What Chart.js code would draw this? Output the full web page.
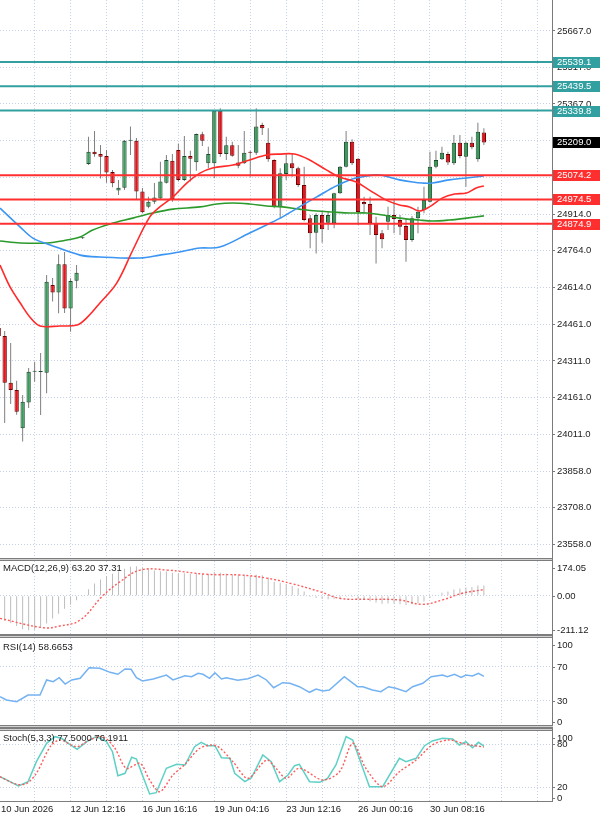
<!DOCTYPE html>
<html><head><meta charset="utf-8">
<script src="https://cdn.jsdelivr.net/npm/chart.js@4.4.1/dist/chart.umd.min.js"></script>
<style>
html,body{margin:0;padding:0;background:#fff;}
#wrap{position:relative;width:600px;height:816px;overflow:hidden;background:#fff;}
canvas{position:absolute;left:0;}
</style></head><body>
<div id="wrap">
<canvas id="cMain" style="top:0px" width="600" height="557"></canvas>
<canvas id="cMacd" style="top:557px" width="600" height="81"></canvas>
<canvas id="cRsi" style="top:634px" width="600" height="94"></canvas>
<canvas id="cStoch" style="top:728px" width="600" height="88"></canvas>
</div>
<script>
// ---------------- DATA ----------------
const FIRST_BAR = -1;
const opens  = [24447,24414,24222,24192,24035,24140,24267,24266,24263,24623,24592,24708,24527,24641,24815,25120,25171,25161,25153,25087,25011,25023,25216,25216,25007,24945,24965,24979,25043,25134,25178,25055,25153,25127,25242,25123,25123,25339,25161,25197,25126,25123,25170,25167,25281,25208,25137,24945,25079,25123,25103,25034,24897,24838,24911,24879,24877,25000,25109,25212,25142,24964,24956,24877,24836,24883,24911,24890,24866,24808,24897,24931,24965,25109,25140,25161,25123,25208,25150,25208,25140,25250];
const highs  = [24471,24434,24385,24230,24171,24282,24308,24344,24664,24652,24749,24759,24651,24705,24820,25232,25256,25198,25178,25096,25055,25219,25274,25227,25022,24986,25042,25130,25157,25161,25205,25235,25175,25246,25253,25191,25342,25349,25232,25212,25198,25256,25175,25349,25290,25267,25140,25103,25164,25161,25109,25109,24911,24918,24924,24924,25002,25112,25256,25222,25145,24986,24986,24904,24849,24945,24972,24911,24897,24907,24945,25027,25171,25175,25191,25171,25239,25239,25212,25232,25290,25267];
const lows   = [24397,24056,24134,24090,23980,24118,24226,24089,24178,24555,24507,24508,24431,24610,24812,25116,25150,25061,25043,25025,24993,25013,25157,24972,24919,24938,24956,24975,25040,24965,25048,25050,25048,25093,25194,25103,25062,25150,25137,25150,25103,25120,25068,25157,25239,25130,24938,24897,25055,25068,25026,24885,24774,24753,24797,24849,24856,24997,25106,25116,24870,24918,24829,24712,24774,24849,24836,24829,24719,24801,24836,24918,24962,25103,25137,25116,25116,25144,25027,25181,25130,25198];
const closes = [24414,24222,24192,24103,24144,24267,24270,24270,24637,24592,24708,24527,24640,24674,24816,25171,25160,25150,25085,25041,25023,25216,25219,25007,24922,24965,24983,25048,25137,24975,25055,25153,25142,25244,25216,25161,25339,25161,25197,25154,25113,25167,25167,25274,25267,25140,24945,25082,25123,25103,25034,24890,24836,24911,24852,24911,25000,25109,25212,25123,24923,24955,24877,24829,24811,24911,24894,24863,24808,24897,24924,24972,25109,25137,25167,25126,25208,25153,25208,25189,25253,25209];

const levelsTeal = [25539.1, 25439.5, 25339.8];
const levelsRed  = [25074.2, 24974.5, 24874.9];
const priceTicks = [23558,23708,23858,24011,24161,24311,24461,24614,24764,24914,25064,25217,25367,25517,25667];

const maRed = [[-0.78,24705],[0.9,24615],[2.6,24549],[4.2,24492],[5.9,24455],[9.2,24455],[12.1,24459],[13.7,24488],[15.9,24549],[18.7,24631],[21.4,24767],[24.2,24902],[25.9,24944],[28.1,24985],[30.4,25042],[32.6,25083],[34.7,25104],[38.1,25116],[40.9,25137],[43.7,25157],[45.9,25161],[48.4,25161],[50.9,25137],[53.7,25096],[55.9,25067],[58.7,25046],[60.9,25013],[63.7,24972],[65.9,24952],[67.6,24944],[69.2,24927],[70.9,24944],[73.1,24981],[75.1,24997],[77.1,25001],[78.7,25022],[80,25030]];
const maBlue = [[-0.78,24939],[2.6,24861],[4.7,24816],[7.6,24788],[12.6,24746],[15.9,24738],[22.6,24734],[25.9,24746],[29.2,24759],[32.6,24775],[35.9,24779],[40.9,24837],[43.7,24870],[46.4,24903],[49.2,24944],[52.1,24985],[54.7,25022],[57.6,25055],[60.4,25071],[62.6,25075],[65.9,25055],[68.1,25046],[69.7,25042],[71.4,25042],[74.2,25055],[77.1,25063],[80,25071]];
const maGreen = [[-0.78,24804],[2.6,24796],[7.1,24796],[10.4,24808],[12.6,24820],[14.7,24849],[17.6,24874],[21.4,24898],[24.7,24919],[28.1,24935],[32.6,24944],[35.4,24956],[38.1,24960],[40.9,24956],[43.7,24948],[46.4,24944],[49.2,24935],[52.1,24927],[54.7,24923],[57.6,24919],[60.4,24919],[63.1,24911],[65.9,24898],[69.2,24890],[71.4,24886],[74.2,24890],[77.1,24898],[80,24907]];

const MACD_FIRST = 0;
const macdHist = [-155,-167,-185,-205,-212,-208,-196,-170,-140,-110,-80,-55,-28,-5,40,75,100,120,135,148,165,178,180,172,162,155,150,148,140,135,138,133,138,136,132,145,140,136,132,128,126,120,128,125,110,85,80,72,60,45,25,-8,-14,-20,-22,-18,-12,-6,-8,-20,-26,-34,-42,-50,-48,-50,-52,-57,-52,-46,-36,-14,4,18,26,38,44,50,54,62,63.2];
const macdSignal = [[-0.78,-139],[6.4,-196],[9.2,-186],[12.6,-149],[16.4,0],[19.2,84],[22.6,157],[27.1,157],[33.7,131],[39.2,127],[43.7,108],[48.1,72],[52.6,25],[55.9,-16],[60.4,-22],[65.9,-26],[69.7,-53],[73.1,-26],[76.4,15],[80,37.31]];
const macdAxis = [174.05, 0, -211.12];

const rsi = [[-0.78,34.7],[0.3,30.8],[2,28.8],[3.9,36.7],[5.9,36.7],[7,54.4],[8.1,52.4],[9.1,57.1],[10.1,49.6],[11.2,54.4],[12.6,56.4],[14.1,68.8],[15.9,68.1],[17.6,63.4],[18.9,61.1],[20.1,67.3],[21.1,66.9],[22,57.1],[23,53.2],[24.8,55.5],[27,60.2],[28.1,54.4],[30.1,59.4],[31.2,58.2],[32.3,62.2],[33.1,61.1],[34.2,56.4],[35.1,62.9],[36.2,55.5],[37,57.1],[38.9,54],[40.6,55.9],[42.3,60.2],[43.7,54.4],[44.9,45.3],[46.4,51.2],[47.6,50.5],[49.2,46.5],[50.9,39.9],[52,43.8],[53.1,41.4],[54.2,42.6],[56.7,58.2],[58.9,46.5],[59.8,46.5],[61.4,42.6],[62.8,40.6],[64.1,46.5],[65.3,44.6],[67,40.6],[68.1,46.5],[69.8,50.5],[71.2,58.2],[73.1,60.2],[73.9,58.2],[75.1,61.1],[76.2,57.5],[77,60.2],[78.1,59.1],[79.1,62.2],[80,58.6653]];
const rsiAxis = [100, 70, 30, 0];

const stochMain = [[-0.78,34.7],[0.9,27.8],[2.3,21.8],[3.9,27.8],[5.3,55.7],[7,81.3],[8.4,90.6],[9.5,88.3],[10.6,81.3],[12.1,73],[13.7,83.6],[15.3,90.6],[17,83.6],[18,69.6],[18.9,36.1],[20.1,39.5],[21.2,61.8],[22,59.4],[23.1,34.7],[24.2,10.6],[25.3,12.4],[27,46.5],[28.7,52],[30.1,51.1],[31.7,76.6],[32.8,82.7],[33.9,78],[35.1,78],[36.2,61.3],[37.6,60.4],[38.4,39.5],[40.1,27.8],[41.2,33.3],[43.1,65],[44.5,55.7],[45.9,27.8],[47.3,37.1],[48.4,50.1],[49.2,52],[50.9,27.8],[52.6,26.9],[53.9,32.5],[55.3,51.1],[57,90.6],[58.1,86],[60.9,20.8],[63.1,20.8],[65.9,60.4],[67,55.7],[68.7,60.4],[70.1,78],[71.4,84.6],[73.1,88.3],[74.8,87.3],[75.9,79],[77,83.6],[78.1,75.2],[79.1,82.7],[80,77.5]];
const stochSignal = [[-0.78,34.7],[2,24.1],[3.7,25.5],[5.3,39.5],[7.6,76.6],[9.2,86],[12,76.6],[14.2,86],[16.4,90.6],[18.4,74.4],[20.3,46.5],[22.6,53.4],[24.2,30.1],[25.9,13.8],[28.1,37.1],[30.1,52],[32.6,74.4],[35.3,78],[38.1,55.7],[40.6,32.5],[43.7,58],[45.3,46.5],[47,32.5],[49.2,46.5],[53.1,30.1],[55.9,41.7],[58.1,81.3],[60.3,46.5],[63.1,20.8],[65.9,41.7],[68.7,58],[71.4,79],[74.2,86],[77,80],[80,76.1911]];
const stochAxis = [100, 80, 20, 0];

const timeLabels = ['10 Jun 2026','12 Jun 12:16','16 Jun 16:16','19 Jun 04:16','23 Jun 12:16','26 Jun 00:16','30 Jun 08:16'];
const timeLabelBars = [-0.6, 11, 23, 35, 47, 59, 71];
const gridBars = [5,11,17,23,29,35,41,47,53,59,65,71,77,83,89];

// ---------------- STYLE / LAYOUT ----------------
const GRID = '#c4d1e8', AXIS = '#7a7a7a', TEXT = '#222', DARK = '#7d7d7d', LIGHT = '#d2d2d2';
const TEAL = '#32a0a0', REDL = '#ff2f2f';
const UP_FILL = '#3a9a5c', UP_EDGE = '#1c4a2c', DN_FILL = '#e8121a', DN_EDGE = '#6a0000', WICK = '#7f7f7f';
const FONT = "9.5px 'Liberation Sans', Arial, sans-serif";
const X_MIN = -0.78, BAR_PX = 5.99, PLOT_W = 552, X_MAX = X_MIN + PLOT_W / BAR_PX;

Chart.defaults.font.family = "'Liberation Sans', Arial, sans-serif";
Chart.defaults.font.size = 9.5;
Chart.defaults.color = TEXT;

const last = a => a[a.length - 1];
const pts = arr => arr.map(p => ({x: p[0], y: p[1]}));

function xScale(showLabels) {
  const vals = showLabels ? [...new Set([...timeLabelBars, ...gridBars])].sort((a, b) => a - b) : gridBars.slice();
  return {
    type: 'linear', position: 'bottom', min: X_MIN, max: X_MAX, offset: false,
    afterBuildTicks: s => { s.ticks = vals.map(v => ({value: v})); },
    afterFit: s => { s.height = showLabels ? 15 : 0; s.paddingLeft = 0; s.paddingRight = 0; },
    grid: { offset: false, drawTicks: false, lineWidth: 1,
      color: c => (c.tick && gridBars.includes(c.tick.value)) ? GRID : 'rgba(0,0,0,0)' },
    border: { display: false, dash: [1, 2] },
    ticks: { display: showLabels, autoSkip: false, maxRotation: 0, minRotation: 0, align: 'start', padding: 3,
      color: TEXT, callback: v => { const i = timeLabelBars.indexOf(v); return i >= 0 ? timeLabels[i] : ''; } }
  };
}
function indicatorY(min, max, gridVals) {
  return { type: 'linear', position: 'right', min, max,
    afterBuildTicks: s => { s.ticks = gridVals.map(v => ({value: v})); },
    afterFit: s => { s.width = 48; s.paddingTop = 0; s.paddingBottom = 0; },
    grid: { color: GRID, drawTicks: false }, border: { display: false, dash: [1, 2] },
    ticks: { display: false } };
}

const panelDeco = {
  id: 'panelDeco',
  afterDraw(chart, args, o) {
    const ctx = chart.ctx, a = chart.chartArea, ys = chart.scales.y, R = Math.round(a.right);
    ctx.save();
    if (o.topBand) {
      const t = Math.round(a.top);
      ctx.fillStyle = DARK; ctx.fillRect(0, t - 3, R + 1, 1); ctx.fillRect(0, t - 1, R + 1, 1);
      ctx.fillStyle = LIGHT; ctx.fillRect(0, t - 2, R + 1, 1);
    }
    const b = Math.round(a.bottom);
    (o.bottomRows || []).forEach((c, i) => { ctx.fillStyle = c === 'd' ? DARK : LIGHT; ctx.fillRect(0, b + i, R + 1, 1); });
    ctx.fillStyle = AXIS; ctx.fillRect(R, 0, 1, b + 1);
    ctx.font = FONT; ctx.textBaseline = 'middle'; ctx.textAlign = 'left';
    (o.labels || []).forEach(([v, t]) => {
      let y = ys.getPixelForValue(v);
      y = Math.min(Math.max(y, a.top + 6.5), a.bottom - 3.5);
      ctx.fillStyle = AXIS; ctx.fillRect(R, Math.round(y), 3, 1);
      ctx.fillStyle = TEXT; ctx.fillText(t, R + 5, y + 0.5);
    });
    if (o.title) { ctx.fillStyle = TEXT; ctx.fillText(o.title, 3, a.top + o.titleDy); }
    if (o.tags) {
      o.tags.forEach(([v, bg]) => {
        const py = Math.round(ys.getPixelForValue(v));
        ctx.fillStyle = bg; ctx.fillRect(R + 1, py - 5, chart.width - R - 1, 11);
        ctx.fillStyle = '#fff'; ctx.fillText(v.toFixed(1), R + 5, py + 0.5);
      });
    }
    ctx.restore();
  }
};

function baseOpts(y, padTop, padBottom, showX, deco) {
  return { responsive: false, animation: false, devicePixelRatio: 1,
    layout: { padding: { top: padTop, bottom: padBottom, left: 0, right: 0 } },
    plugins: { legend: { display: false }, tooltip: { enabled: false }, panelDeco: deco },
    scales: { x: xScale(showX), y } };
}

// ---------------- MAIN PRICE CHART ----------------
const barIdx = opens.map((_, i) => FIRST_BAR + i);
const isUp = i => closes[i] >= opens[i];
const levelSet = (lv, col) => ({ type: 'line', data: [{x: X_MIN, y: lv}, {x: X_MAX, y: lv}], borderColor: col, borderWidth: 2, pointRadius: 0, order: 0 });
const maSet = (arr, col) => ({ type: 'line', data: pts(arr), borderColor: col, borderWidth: 1.6, pointRadius: 0, tension: 0.35, order: 1 });

new Chart(document.getElementById('cMain'), {
  type: 'bar',
  data: { datasets: [
    ...levelsTeal.map(v => levelSet(v, TEAL)),
    ...levelsRed.map(v => levelSet(v, REDL)),
    maSet(maRed, '#ff2a2a'), maSet(maBlue, '#3b95f2'), maSet(maGreen, '#2b9a2b'),
    { type: 'bar', data: barIdx.map((k, i) => ({x: k, y: [opens[i], closes[i]]})),
      backgroundColor: barIdx.map((_, i) => isUp(i) ? UP_FILL : DN_FILL),
      borderColor: barIdx.map((_, i) => isUp(i) ? UP_EDGE : DN_EDGE),
      borderWidth: 1, borderSkipped: false, grouped: false, maxBarThickness: 4.5, minBarLength: 1, order: 2 },
    { type: 'bar', data: barIdx.map((k, i) => ({x: k, y: [lows[i], highs[i]]})),
      backgroundColor: WICK, borderWidth: 0, grouped: false, maxBarThickness: 1, order: 3 }
  ] },
  options: baseOpts({
    type: 'linear', position: 'right', min: 23505.8, max: 25794,
    afterBuildTicks: s => { s.ticks = priceTicks.map(v => ({value: v})); },
    afterFit: s => { s.width = 48; s.paddingTop = 0; s.paddingBottom = 0; },
    grid: { color: GRID, drawTicks: true, tickLength: 3, tickColor: AXIS, tickWidth: 1, tickBorderDash: [] },
    border: { display: false, dash: [1, 2] },
    ticks: { padding: 2, autoSkip: false, color: TEXT, callback: v => v.toFixed(1) }
  }, 0, 0, false, {
    tags: [...levelsTeal.map(v => [v, TEAL]), ...levelsRed.map(v => [v, REDL]), [last(closes), '#000']]
  }),
  plugins: [panelDeco]
});

// ---------------- MACD ----------------
new Chart(document.getElementById('cMacd'), {
  type: 'bar',
  data: { datasets: [
    { type: 'line', data: pts(macdSignal), borderColor: '#ff5a5a', borderWidth: 1.4, borderDash: [2, 2], pointRadius: 0, tension: 0.4, order: 0 },
    { type: 'bar', data: macdHist.map((v, i) => ({x: MACD_FIRST + i, y: v})), backgroundColor: '#bdbdbd', borderWidth: 0, grouped: false, maxBarThickness: 1, order: 1 }
  ] },
  options: baseOpts(indicatorY(-234.7, 212.6, [0]), 4, 4, false, {
    topBand: true, bottomRows: ['d'], titleDy: 7.5,
    title: `MACD(12,26,9) ${last(macdHist).toFixed(2)} ${last(macdSignal)[1].toFixed(2)}`,
    labels: macdAxis.map(v => [v, v.toFixed(2)])
  }),
  plugins: [panelDeco]
});

// ---------------- RSI ----------------
new Chart(document.getElementById('cRsi'), {
  type: 'line',
  data: { datasets: [
    { data: pts(rsi), borderColor: '#74b2f2', borderWidth: 1.5, pointRadius: 0, tension: 0 }
  ] },
  options: baseOpts(indicatorY(1.4, 103.8, [70, 30]), 4, 3, false, {
    topBand: true, bottomRows: ['d', 'l', 'd'], titleDy: 9,
    title: `RSI(14) ${last(rsi)[1].toFixed(4)}`,
    labels: rsiAxis.map(v => [v, String(v)])
  }),
  plugins: [panelDeco]
});

// ---------------- STOCHASTIC ----------------
new Chart(document.getElementById('cStoch'), {
  type: 'line',
  data: { datasets: [
    { data: pts(stochSignal), borderColor: '#ff5a5a', borderWidth: 1.4, borderDash: [2, 2], pointRadius: 0, tension: 0.3, order: 0 },
    { data: pts(stochMain), borderColor: '#5fd0c5', borderWidth: 1.5, pointRadius: 0, tension: 0, order: 1 }
  ] },
  options: baseOpts(indicatorY(0.84, 98.5, [80, 20]), 3, 0, true, {
    topBand: true, bottomRows: ['d'], titleDy: 7,
    title: `Stoch(5,3,3) ${last(stochMain)[1].toFixed(4)} ${last(stochSignal)[1].toFixed(4)}`,
    labels: stochAxis.map(v => [v, String(v)])
  }),
  plugins: [panelDeco]
});
</script>
</body></html>
